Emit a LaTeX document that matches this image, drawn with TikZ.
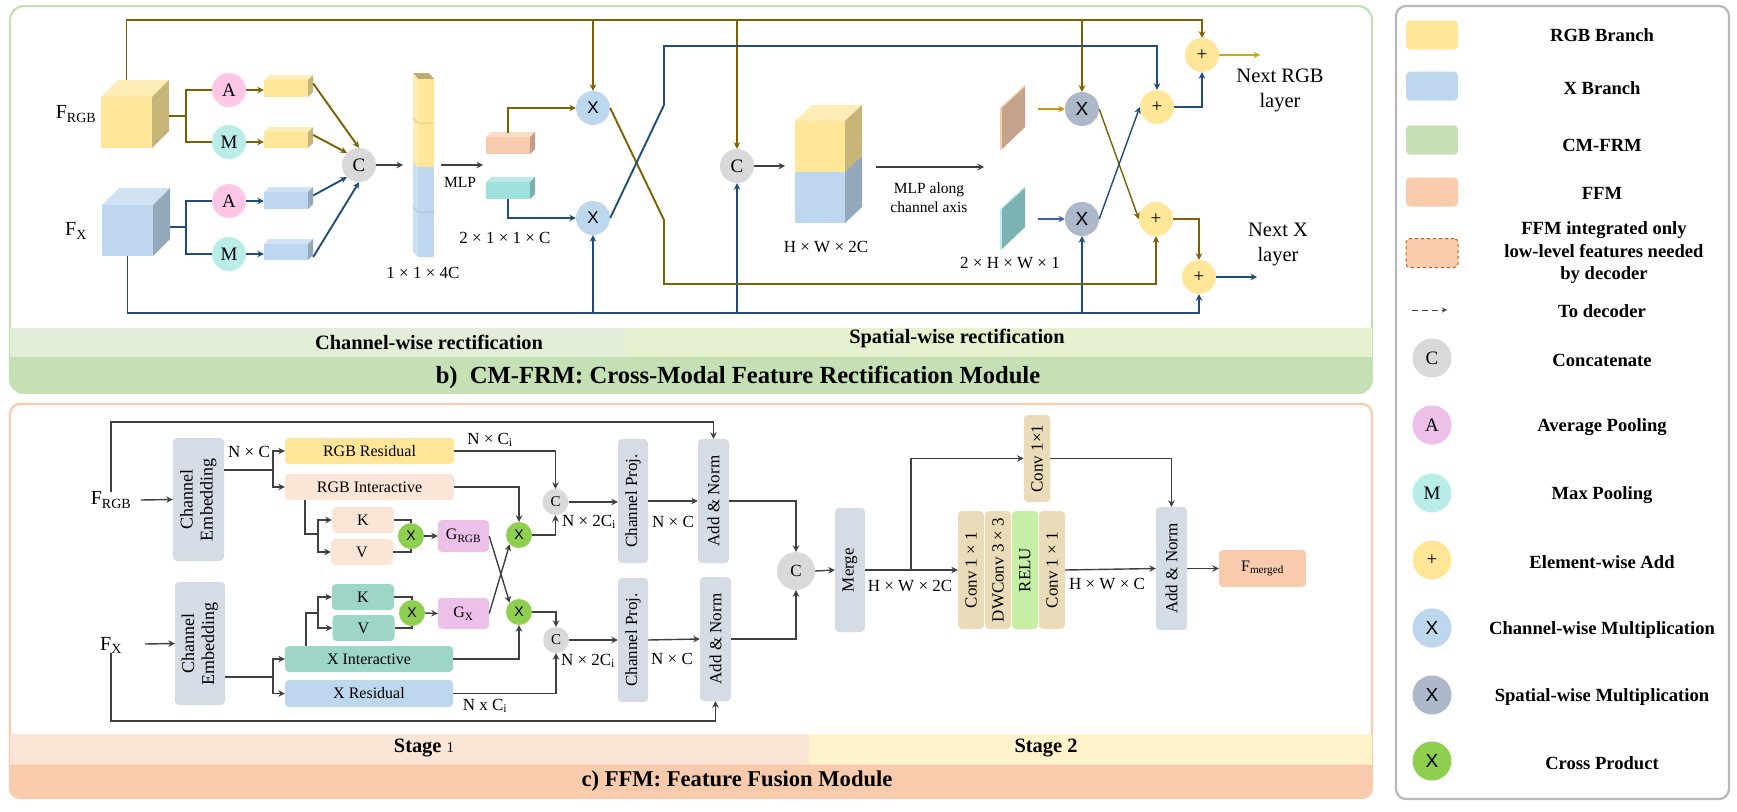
\documentclass[tikz,border=0pt]{standalone}
\usepackage{fontspec}
\setmainfont{Liberation Serif}
\setsansfont{Liberation Sans}
\usetikzlibrary{arrows.meta,positioning,calc,shapes.geometric}

\definecolor{rgbc}{HTML}{FFE699}
\definecolor{xc}{HTML}{BDD7EE}
\definecolor{cmc}{HTML}{C5E0B4}
\definecolor{cmleft}{HTML}{E2EED8}
\definecolor{cmright}{HTML}{E6F2CF}
\definecolor{ffmc}{HTML}{F8CBAD}
\definecolor{tealc}{HTML}{9DE0DC}
\definecolor{saltc}{HTML}{F7CBAE}
\definecolor{greyc}{HTML}{D9D9D9}
\definecolor{pinkc}{HTML}{FFC6E5}
\definecolor{pinkl}{HTML}{EDC0EA}
\definecolor{mintc}{HTML}{B8EDE8}
\definecolor{spatc}{HTML}{ADB9CA}
\definecolor{crossc}{HTML}{8FCF4F}
\definecolor{slatec}{HTML}{D6DCE5}
\definecolor{creamc}{HTML}{FBE5D6}
\definecolor{kvc}{HTML}{9DD5C8}
\definecolor{convc}{HTML}{EBDCB9}
\definecolor{reluc}{HTML}{C5EFA5}
\definecolor{goldc}{HTML}{7F6000}
\definecolor{bluec}{HTML}{1F4E79}
\definecolor{darkc}{HTML}{404040}
\definecolor{platea}{HTML}{C4A28B}
\definecolor{plateb}{HTML}{7BB3B3}
\definecolor{plateedge}{HTML}{BFECEC}
\definecolor{ambc}{HTML}{C8960C}
\definecolor{midblue}{HTML}{3D5FA8}
\definecolor{oliveline}{HTML}{BDAF10}
\definecolor{dashc}{HTML}{C55A11}

\tikzset{
    goldline/.style={draw=goldc, line width=1.9pt},
    blueline/.style={draw=bluec, line width=1.9pt},
    greyline/.style={draw=darkc, line width=1.4pt},
    boldarrow/.style={draw=darkc, line width=1.9pt},
    opcircle/.style={circle, minimum size=34pt, inner sep=0pt, font=\fontsize{19}{22}\selectfont},
    smallop/.style={circle, minimum size=26pt, inner sep=0pt, font=\fontsize{15}{18}\selectfont},
    lbl/.style={inner sep=0pt, font=\fontsize{17}{20}\selectfont},
    biglbl/.style={inner sep=0pt, font=\fontsize{20}{24}\selectfont},
    bartxt/.style={inner sep=0pt, font=\fontsize{20.4}{24}\selectfont\bfseries},
    legtxt/.style={inner sep=0pt, align=center, font=\fontsize{18.6}{22.5}\selectfont\bfseries},
    modbox/.style={rounded corners=4pt, inner sep=0pt, align=center, font=\fontsize{16}{19}\selectfont},
    swatch/.style={rounded corners=4pt, minimum width=52pt, minimum height=29pt, inner sep=0pt}
}

% front face is the node, top and side are filled behind it
\newcommand{\cubebox}[7]{%
    \fill [#7!70!white] (#2,#3) -- ++(#6,-#6) -- ++(#4,0) -- ++(-#6,#6) -- cycle;
    \fill [#7!78!black] (#2+#4,#3) -- ++(#6,-#6) -- ++(0,#5) -- ++(-#6,#6) -- cycle;
    \node [fill=#7, minimum width=#4, minimum height=#5, inner sep=0pt] (#1) at (#2+#4/2,#3+#5/2) {};
}
\newcommand{\vtxt}[1]{\rotatebox{90}{\fontsize{17}{20}\selectfont #1}}
\newcommand{\vtwo}[2]{\rotatebox{90}{\fontsize{18}{20}\selectfont\begin{tabular}{@{}c@{}}#1\\#2\end{tabular}}}

\begin{document}
\begin{tikzpicture}[x=1pt, y=-1pt, >={Stealth[length=6.5pt,width=6.5pt]}]
    \useasboundingbox (0,0) rectangle (1737,811);
    \fill [white] (0,0) rectangle (1737,811);

    % panel b
    \draw [cmc, line width=2.2pt, rounded corners=14pt] (10,6) rectangle (1372,393);
    \fill [cmleft] (10,328) rectangle (626,357);
    \fill [cmright] (626,328) rectangle (1372,357);
    \fill [cmc] (10,357) -- (1372,357) [rounded corners=14pt] -- (1372,393) -- (10,393) [sharp corners] -- cycle;
    \node [bartxt] (barcw) at (429,342) {Channel-wise rectification};
    \node [bartxt] (barsw) at (957,338) {Spatial-wise rectification};
    \node [inner sep=0pt, font=\fontsize{24.6}{28}\selectfont\bfseries] (titleb) at (738,377) {b)\ \ CM-FRM: Cross-Modal Feature Rectification Module};

    % panel c
    \draw [ffmc, line width=2.2pt, rounded corners=10pt] (10,404) rectangle (1372,798);
    \fill [creamc] (10,733.5) rectangle (809,764.5);
    \fill [rgbc!50!white] (809,733.5) rectangle (1372,764.5);
    \fill [ffmc] (10,764.5) -- (1372,764.5) [rounded corners=10pt] -- (1372,798) -- (10,798) [sharp corners] -- cycle;
    \node [bartxt] (barst1) at (424,748) {Stage {\fontsize{15}{17}\selectfont\mdseries 1}};
    \node [bartxt] (barst2) at (1046,748) {Stage 2};
    \node [inner sep=0pt, font=\fontsize{22.6}{27}\selectfont\bfseries] (titlec) at (737,781) {c) FFM: Feature Fusion Module};

    % legend
    \draw [greyc!85!black, line width=2.2pt, rounded corners=10pt] (1396,6) rectangle (1729,799);
    \foreach \nm/\y/\col in {rgb/35/rgbc, x/86/xc, cm/140/cmc, ffm/192/ffmc} {
        \node [swatch, fill=\col] (sw\nm) at (1432,\y) {};
    }
    \node [swatch, fill=ffmc, draw=dashc, dashed, line width=1pt] (swlow) at (1432,253) {};
    \node [legtxt] (txrgb) at (1602,35) {RGB Branch};
    \node [legtxt] (txx) at (1602,88) {X Branch};
    \node [legtxt] (txcm) at (1602,145) {CM-FRM};
    \node [legtxt] (txffm) at (1602,193) {FFM};
    \node [legtxt] (txlow) at (1604,253) {FFM integrated only\\low-level features needed\\by decoder};
    \coordinate (dashl) at (1412,310);
    \coordinate (dashr) at (1447,310);
    \draw [darkc, line width=1pt, dash pattern=on 6pt off 4pt, ->, >={Stealth[length=5pt,width=5pt,open]}] (dashl) -- (dashr);
    \node [legtxt] (txdec) at (1602,311) {To decoder};
    \foreach \nm/\y/\col/\sym/\txt in {c/358/greyc/C/Concatenate, a/425/pinkl/A/Average Pooling, m/493/mintc/M/Max Pooling, p/560/rgbc/+/Element-wise Add} {
        \node [opcircle, minimum size=39pt, fill=\col] (lg\nm) at (1432,\y) {\sym};
        \node [legtxt] (tx\nm) at (1602,\y+2) {\txt};
    }
    \foreach \nm/\y/\col/\txt in {cw/628/xc/Channel-wise Multiplication, sw/695/spatc/Spatial-wise Multiplication, cp/761/crossc/Cross Product} {
        \node [opcircle, minimum size=39pt, fill=\col, font=\fontsize{19}{22}\selectfont\sffamily] (lg\nm) at (1432,\y) {X};
        \node [legtxt] (tx\nm) at (1602,\y+2) {\txt};
    }

    % channel-wise part
    \cubebox{cubergb}{101}{97}{51}{51}{17}{rgbc}
    \cubebox{cubex}{102}{205}{51}{51}{17}{xc}
    \node [biglbl] (lblrgbb) at (76,114) {F\textsubscript{RGB}};
    \node [biglbl] (lblxb) at (76,231) {F\textsubscript{X}};
    \node [opcircle, fill=pinkc] (pa1) at (229,90) {A};
    \node [opcircle, fill=mintc] (pm1) at (229,142) {M};
    \node [opcircle, fill=pinkc] (pa2) at (229,201) {A};
    \node [opcircle, fill=mintc] (pm2) at (229,254) {M};
    \cubebox{ba1}{264}{80}{44}{17}{5}{rgbc}
    \cubebox{bm1}{264}{132}{44}{16}{5}{rgbc}
    \cubebox{ba2}{264}{192}{44}{17}{5}{xc}
    \cubebox{bm2}{264}{244}{44}{16}{5}{xc}
    \node [opcircle, fill=greyc] (c1) at (359,165) {C};

    \coordinate (rgbsplit) at (186,116);
    \coordinate (xsplit) at (186,227);
    \draw [goldline] (169,116) -- (rgbsplit);
    \draw [goldline] (pa1.west) -| (rgbsplit) |- (pm1.west);
    \draw [blueline] (170,227) -- (xsplit);
    \draw [blueline] (pa2.west) -| (xsplit) |- (pm2.west);
    \draw [goldline, ->] (pa1.east) -- (pa1.east -| ba1.west);
    \draw [goldline, ->] (pm1.east) -- (pm1.east -| bm1.west);
    \draw [blueline, ->] (pa2.east) -- (pa2.east -| ba2.west);
    \draw [blueline, ->] (pm2.east) -- (pm2.east -| bm2.west);
    \draw [goldline, ->] ([xshift=5pt,yshift=5pt]ba1.east) -- (c1.north);
    \draw [goldline, ->] ([xshift=5pt,yshift=5pt]bm1.east) -- (c1.135);
    \draw [blueline, ->] ([xshift=5pt,yshift=5pt]ba2.east) -- (c1.225);
    \draw [blueline, ->] ([xshift=5pt,yshift=-5pt]bm2.east) -- (c1.south);

    % the tall stack
    \fill [rgbc!75!black] (413,73) -- (429,73) -- (434,79) -- (418,79) -- cycle;
    \fill [rgbc!80!white] (413,73) -- (418,79) -- (418,167) -- (413,162) -- cycle;
    \fill [xc!80!white] (413,162) -- (418,167) -- (418,257) -- (413,252) -- cycle;
    \node [fill=rgbc, minimum width=16pt, minimum height=88pt, inner sep=0pt] (stackrgb) at (426,123) {};
    \node [fill=xc, minimum width=16pt, minimum height=90pt, inner sep=0pt] (stackx) at (426,212) {};
    \draw [rgbc!85!black, line width=0.6pt] (413,118) -- (418,123) -- (434,123);
    \draw [xc!85!black, line width=0.6pt] (413,207) -- (418,212) -- (434,212);
    \coordinate (stackin) at (403,165);
    \draw [boldarrow, ->] (c1.east) -- (stackin);
    \node [lbl] (lblstack) at (423,273) {1 × 1 × 4C};
    \coordinate (mlpa) at (441,165);
    \coordinate (mlpb) at (483,165);
    \draw [boldarrow, ->] (mlpa) -- (mlpb);
    \node [lbl, font=\fontsize{15.5}{18}\selectfont] (lblmlp) at (460,182) {MLP};
    \cubebox{salm}{486}{137}{44}{17}{5}{saltc}
    \cubebox{teal}{486}{182}{44}{17}{5}{tealc}
    \node [lbl] (lblcw) at (505,238) {2 × 1 × 1 × C};
    \node [opcircle, fill=xc, font=\fontsize{17}{20}\selectfont\sffamily] (cx1) at (593,108) {X};
    \node [opcircle, fill=xc, font=\fontsize{17}{20}\selectfont\sffamily] (cx2) at (593,218) {X};
    \draw [goldline, ->] ([yshift=4pt]salm.north) |- (cx1.west);
    \draw [blueline, ->] (teal.south) |- (cx2.west);

    % spatial-wise part
    \node [opcircle, fill=greyc] (c2) at (737,166) {C};
    \fill [rgbc!70!white] (795,121) -- (812,105) -- (862,105) -- (845,121) -- cycle;
    \fill [rgbc!78!black] (845,121) -- (862,105) -- (862,156) -- (845,172) -- cycle;
    \fill [xc!78!black] (845,172) -- (862,156) -- (862,207) -- (845,223) -- cycle;
    \node [fill=rgbc, minimum width=50pt, minimum height=51pt, inner sep=0pt] (bigrgb) at (820,146.5) {};
    \node [fill=xc, minimum width=50pt, minimum height=51pt, inner sep=0pt] (bigx) at (820,197.5) {};
    \draw [boldarrow, ->] (c2.east) -- (785,166);
    \node [lbl] (lblbig) at (826,247) {H × W × 2C};
    \coordinate (mlpc) at (876,167);
    \coordinate (mlpd) at (984,167);
    \draw [boldarrow, ->] (mlpc) -- (mlpd);
    \node [lbl, align=center, font=\fontsize{15.5}{19}\selectfont] (lblalong) at (929,197.5) {MLP along\\channel axis};
    % plates
    \fill [saltc] (1000,108) -- (1025,85) -- (1025,127) -- (1000,150) -- cycle;
    \fill [platea] (1002,108) -- (1025,87) -- (1025,127) -- (1002,149) -- cycle;
    \fill [plateedge] (1000,209) -- (1025,186) -- (1025,227) -- (1000,250) -- cycle;
    \fill [plateb] (1002,209) -- (1025,188) -- (1025,227) -- (1002,249) -- cycle;
    \node [lbl] (lblplate) at (1010,263) {2 × H × W × 1};
    \node [opcircle, fill=spatc, font=\fontsize{19}{22}\selectfont\sffamily] (sx1) at (1082,109) {X};
    \node [opcircle, fill=spatc, font=\fontsize{19}{22}\selectfont\sffamily] (sx2) at (1082,219) {X};
    \coordinate (plgold) at (1038,109);
    \coordinate (plblue) at (1038,219);
    \draw [draw=ambc, line width=1.4pt, ->] (plgold) -- (sx1.west);
    \draw [draw=midblue, line width=1.4pt, ->] (plblue) -- (sx2.west);
    \node [opcircle, fill=rgbc] (adda) at (1157,107) {+};
    \node [opcircle, fill=rgbc] (addb) at (1156,219) {+};
    \node [opcircle, fill=rgbc] (addnr) at (1202,55) {+};
    \node [opcircle, fill=rgbc] (addnx) at (1199,277) {+};
    \node [biglbl, align=center, font=\fontsize{20.5}{25}\selectfont] (lblnr) at (1280,90.5) {Next RGB\\layer};
    \node [biglbl, align=center, font=\fontsize{20.5}{25}\selectfont] (lblnx) at (1278,244.5) {Next X\\layer};

    % long runs along the top and the bottom
    \coordinate (goldtop) at (126.5,20);
    \coordinate (bluelow) at (127.5,313);
    \draw [goldline, ->] ([yshift=17pt]cubergb.north) -- (goldtop) -| (addnr.north);
    \draw [blueline, ->] (cubex.south) -- (bluelow) -| (addnx.south);
    \draw [goldline, ->] (goldtop -| cx1.north) -- (cx1.north);
    \draw [goldline, ->] (goldtop -| c2.north) -- (c2.north);
    \draw [goldline, ->] (goldtop -| sx1.north) -- (sx1.north);
    \draw [blueline, ->] (bluelow -| cx2.south) -- (cx2.south);
    \draw [blueline, ->] (bluelow -| c2.south) -- (c2.south);
    \draw [blueline, ->] (bluelow -| sx2.south) -- (sx2.south);
    % crossing between the channel multipliers
    \coordinate (goldbend) at (664,220);
    \coordinate (blueup) at (664,105);
    \coordinate (bluetop) at (664,46);
    \draw [goldline, ->] (cx1.east) -- (goldbend) |- (664,284) -| (addb.south);
    \draw [blueline, ->] (cx2.east) -- (blueup) -- (bluetop) -| (adda.north);
    % crossing between the spatial multipliers
    \draw [goldline, line width=1.4pt, ->] (sx1.east) -- (addb.west);
    \draw [blueline, line width=1.4pt, ->] (sx2.east) -- (adda.west);
    \draw [blueline, ->] (adda.east) -| (addnr.south);
    \draw [goldline, ->] (addb.east) -| (addnx.north);
    \coordinate (nextr) at (1260,55);
    \coordinate (nextx) at (1257,277);
    \draw [draw=oliveline, line width=1.7pt, ->] (addnr.east) -- (nextr);
    \draw [blueline, ->] (addnx.east) -- (nextx);

    % FFM stage 1
    \node [biglbl] (lblfrgb) at (111,500) {F\textsubscript{RGB}};
    \node [biglbl] (lblfx) at (111,645) {F\textsubscript{X}};
    \node [modbox, fill=slatec, minimum width=51pt, minimum height=123pt] (embrgb) at (198.5,499.5) {\vtwo{Channel}{Embedding}};
    \node [modbox, fill=slatec, minimum width=50pt, minimum height=123pt] (embx) at (200,643.5) {\vtwo{Channel}{Embedding}};
    \node [modbox, fill=rgbc, minimum width=169pt, minimum height=26pt] (resrgb) at (369.5,451) {RGB Residual};
    \node [modbox, fill=creamc, minimum width=169pt, minimum height=26pt] (intrgb) at (369.5,487) {RGB Interactive};
    \node [modbox, fill=kvc, minimum width=168pt, minimum height=26pt] (intx) at (369,659) {X Interactive};
    \node [modbox, fill=xc, minimum width=168pt, minimum height=27pt] (resx) at (369,693.5) {X Residual};
    \node [modbox, fill=creamc, minimum width=62pt, minimum height=26pt] (krgb) at (363,520) {K};
    \node [modbox, fill=creamc, minimum width=62pt, minimum height=26pt] (vrgb) at (362,552) {V};
    \node [modbox, fill=kvc, minimum width=62pt, minimum height=26pt] (kx) at (363,597) {K};
    \node [modbox, fill=kvc, minimum width=62pt, minimum height=26pt] (vx) at (363.5,628) {V};
    \node [smallop, fill=crossc, font=\fontsize{14}{16}\selectfont\sffamily] (xrgb) at (411,536) {X};
    \node [smallop, fill=crossc, font=\fontsize{14}{16}\selectfont\sffamily] (xx) at (412,613) {X};
    \node [modbox, fill=pinkl, minimum width=51pt, minimum height=32pt] (grgb) at (463.5,536) {G\textsubscript{RGB}};
    \node [modbox, fill=pinkl, minimum width=51pt, minimum height=31pt] (gx) at (463.5,613.5) {G\textsubscript{X}};
    \node [smallop, fill=crossc, font=\fontsize{14}{16}\selectfont\sffamily] (mulrgb) at (519,535) {X};
    \node [smallop, fill=crossc, font=\fontsize{14}{16}\selectfont\sffamily] (mulx) at (519,612) {X};
    \node [smallop, fill=greyc] (crgb) at (555.5,502) {C};
    \node [smallop, fill=greyc] (cx) at (556,640) {C};
    \node [modbox, fill=slatec, minimum width=30pt, minimum height=124pt] (projrgb) at (633,501) {\vtxt{Channel Proj.}};
    \node [modbox, fill=slatec, minimum width=30pt, minimum height=124pt] (projx) at (633,640) {\vtxt{Channel Proj.}};
    \node [modbox, fill=slatec, minimum width=31pt, minimum height=124pt] (addrgb) at (713.5,501) {\vtxt{Add \& Norm}};
    \node [modbox, fill=slatec, minimum width=31pt, minimum height=124pt] (addx) at (715.5,639) {\vtxt{Add \& Norm}};

    \coordinate (ftop) at (111,422);
    \coordinate (fbot) at (111,721);
    \draw [greyline, ->] (lblfrgb.north) -- (ftop) -| (addrgb.north);
    \draw [greyline, ->] (lblfx.south) -- (fbot) -| (addx.south);
    \draw [greyline, ->] (141,500) -- (embrgb.west);
    \draw [greyline, ->] (145,644) -- (embx.west);
    \coordinate (rgbbr) at (273,470);
    \coordinate (xbr) at (273,677);
    \draw [greyline] (embrgb.east |- rgbbr) -- (rgbbr);
    \draw [greyline, ->] (rgbbr) |- (resrgb.west);
    \draw [greyline, ->] (rgbbr) |- (intrgb.west);
    \draw [greyline] (embx.east |- xbr) -- (xbr);
    \draw [greyline, ->] (xbr) |- (intx.west);
    \draw [greyline, ->] (xbr) |- (resx.west);
    \coordinate (kvrgbin) at (305,534);
    \coordinate (kvrgbbr) at (318,534);
    \draw [greyline] (kvrgbin |- intrgb.south) -- (kvrgbin) -- (kvrgbbr);
    \draw [greyline, ->] (kvrgbbr) |- (krgb.west);
    \draw [greyline, ->] (kvrgbbr) |- (vrgb.west);
    \coordinate (kvxin) at (306,613);
    \coordinate (kvxbr) at (318,613);
    \draw [greyline] (kvxin |- intx.north) -- (kvxin) -- (kvxbr);
    \draw [greyline, ->] (kvxbr) |- (kx.west);
    \draw [greyline, ->] (kvxbr) |- (vx.west);
    \draw [greyline] (krgb.east) -| (xrgb.north);
    \draw [greyline] (vrgb.east) -| (xrgb.south);
    \draw [greyline] (kx.east) -| (xx.north);
    \draw [greyline] (vx.east) -| (xx.south);
    \draw [greyline, ->] (xrgb.east) -- (grgb.west);
    \draw [greyline, ->] (xx.east) -- (gx.west);
    \draw [greyline, ->] (grgb.east) -- (mulx.north west);
    \draw [greyline, ->] (gx.east) -- (mulrgb.south west);
    \draw [greyline, ->] (intrgb.east) -| (mulrgb.north);
    \draw [greyline, ->] (intx.east) -| (mulx.south);
    \draw [greyline, ->] (resrgb.east) -| (crgb.north);
    \draw [greyline, ->] (mulrgb.east) -| (crgb.south);
    \draw [greyline, ->] (mulx.east) -| (cx.north);
    \draw [greyline, ->] (resx.east) -| (cx.south);
    \draw [greyline, ->] (crgb.east) -- (crgb.east -| projrgb.west);
    \draw [greyline, ->] (cx.east) -- (projx.west);
    \draw [greyline, ->] (projrgb.east) -- (addrgb.west);
    \draw [greyline, ->] (projx.east) -- (addx.west);
    \node [lbl] (lblnc) at (249,452) {N × C};
    \node [lbl] (lblnci) at (490,440) {N × C\textsubscript{i}};
    \node [lbl] (lblnxci) at (485,706) {N x C\textsubscript{i}};
    \node [lbl] (lbl2ca) at (589,522) {N × 2C\textsubscript{i}};
    \node [lbl] (lbl2cb) at (588,661) {N × 2C\textsubscript{i}};
    \node [lbl] (lblnca) at (673,522) {N × C};
    \node [lbl] (lblncb) at (672,659) {N × C};

    % FFM stage 2
    \node [opcircle, minimum size=38pt, fill=greyc, font=\fontsize{17}{20}\selectfont] (cmid) at (796,571) {C};
    \node [modbox, fill=slatec, minimum width=30pt, minimum height=124pt] (merge) at (850,570) {\vtxt{Merge}};
    \node [modbox, fill=convc, minimum width=26.5pt, minimum height=87pt] (convtop) at (1037,458.5) {\vtxt{Conv 1×1}};
    \node [modbox, fill=convc, minimum width=26pt, minimum height=118pt] (conva) at (971,570) {\vtxt{Conv 1 × 1}};
    \node [modbox, fill=convc, minimum width=26pt, minimum height=118pt] (dwconv) at (998,570) {\vtxt{DWConv 3 × 3}};
    \node [modbox, fill=reluc, minimum width=26pt, minimum height=118pt] (relu) at (1025,570) {\vtxt{RELU}};
    \node [modbox, fill=convc, minimum width=26pt, minimum height=118pt] (convb) at (1052,570) {\vtxt{Conv 1 × 1}};
    \node [modbox, fill=slatec, minimum width=31pt, minimum height=123pt] (addm) at (1171.5,568.5) {\vtxt{Add \& Norm}};
    \node [modbox, fill=ffmc, minimum width=87pt, minimum height=37pt] (fmerged) at (1262.5,568.5) {F\textsubscript{merged}};
    \draw [greyline, ->] (addrgb.east) -| (cmid.north);
    \draw [greyline, ->] (addx.east) -| (cmid.south);
    \draw [greyline, ->] (cmid.east) -- (merge.west);
    \draw [greyline, ->] (merge.east) -- (conva.west);
    \coordinate (skipbr) at (911,570);
    \draw [greyline, ->] (skipbr) |- (convtop.west);
    \draw [greyline, ->] (convtop.east) -| (addm.north);
    \draw [greyline, ->] (convb.east) -- (addm.west);
    \draw [greyline, ->] (addm.east) -- (fmerged.west);
    \node [lbl] (lblhw2c) at (910,586) {H × W × 2C};
    \node [lbl] (lblhwc) at (1107,584) {H × W × C};
\end{tikzpicture}
\end{document}
